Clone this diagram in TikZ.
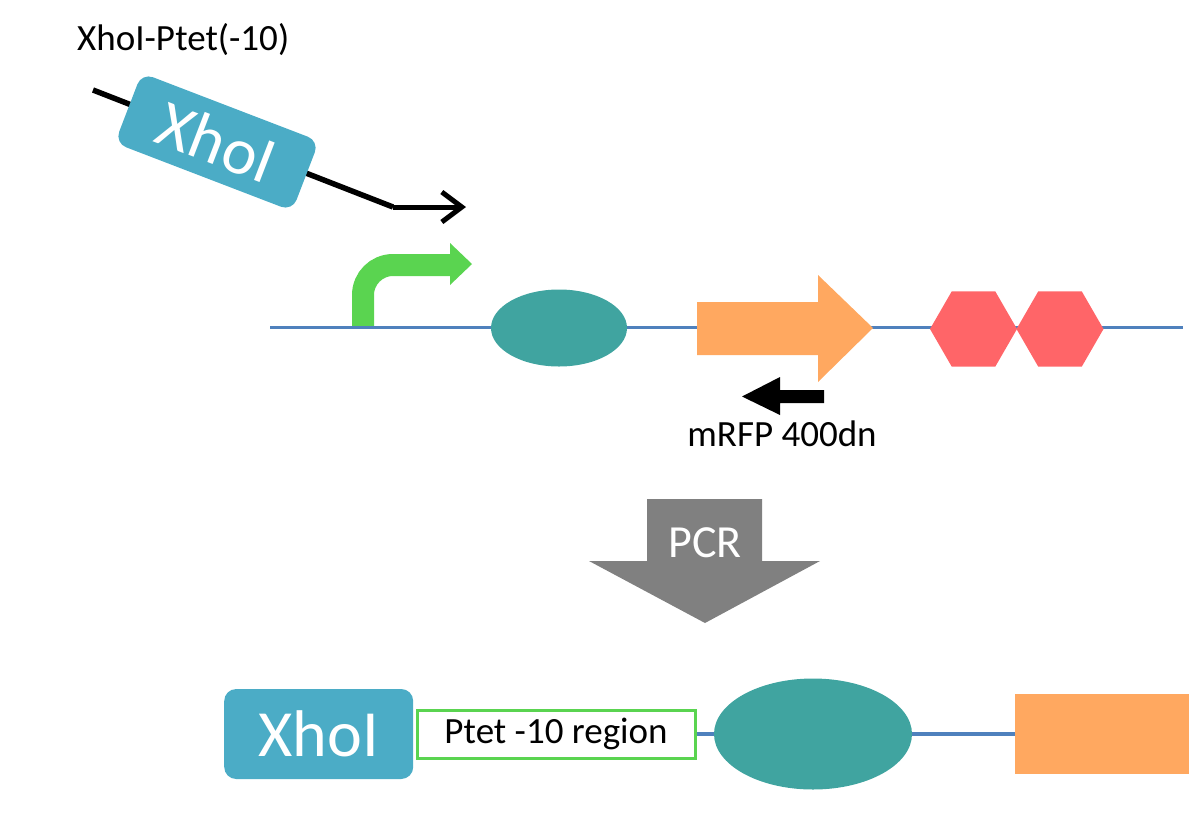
\documentclass[tikz,border=0pt]{standalone}
\usepackage{fontspec}
\setmainfont{Carlito}
\usetikzlibrary{arrows.meta,shapes.geometric,calc}
\definecolor{xblue}{HTML}{4BACC6}
\definecolor{teal2}{HTML}{40A4A0}
\definecolor{orng}{HTML}{FFA860}
\definecolor{hexred}{HTML}{FF6568}
\definecolor{pgreen}{HTML}{5AD450}
\definecolor{dna}{HTML}{4F81BD}
\definecolor{pcrgray}{HTML}{808080}
\tikzset{
  dnaline/.style={draw=dna, line width=3pt},
  xbox/.style={fill=xblue, rounded corners=12pt, text=white, font=\fontsize{66}{70}\selectfont, inner sep=0pt},
  lbl/.style={font=\fontsize{37}{42}\selectfont, inner sep=0pt},
  hexa/.style={regular polygon, regular polygon sides=6, fill=hexred, minimum size=87pt, inner sep=0pt},
  rbs/.style={ellipse, fill=teal2, inner sep=0pt},
}
\begin{document}
\begin{tikzpicture}[x=1pt,y=-1pt]
\useasboundingbox (0,0) rectangle (1189,815);
% top label
\node[lbl, anchor=west] (title) at (77,40) {XhoI-Ptet(-10)};
% primer with XhoI tail
\coordinate (p1) at (93,90);
\coordinate (p2) at (393,207);
\coordinate (p3) at (466,207);
\draw[line width=5.5pt] (p1) -- (p2);
\draw[line width=5pt, -{Straight Barb[length=20pt,width=30pt,line width=5pt]}] (p2) -- (p3);
\node[xbox, rotate=-21, minimum width=190pt, minimum height=75pt] (xtop) at (217,142) {XhoI};
% promoter
\draw[pgreen, line width=22pt, rounded corners=30pt] (363,328) -- (363,265) -- (452,265);
\fill[pgreen] (450,243) -- (472,264) -- (450,285) -- cycle;
% DNA baseline
\coordinate (b0) at (270,327);
\coordinate (b1) at (1183,327);
\draw[dnaline] (b0) -- (b1);
% RBS
\node[rbs, minimum width=136pt, minimum height=77pt] (rbs1) at (559,328) {};
% CDS arrow
\fill[orng] (697,302) -- (818,302) -- (818,275) -- (873,328) -- (818,382) -- (818,355) -- (697,355) -- cycle;
% terminators
\node[hexa] (t1) at (973.5,329) {};
\node[hexa] (t2) at (1060,329) {};
% reverse primer
\fill (824,390) -- (780,390) -- (780,377) -- (742,396.5) -- (780,415) -- (780,403) -- (824,403) -- cycle;
\node[lbl] (rev) at (782,434) {mRFP 400dn};
% PCR arrow
\fill[pcrgray] (647,499) -- (762,499) -- (762,561) -- (820,561) -- (705,623) -- (589,561) -- (647,561) -- cycle;
\node[lbl, text=white, font=\fontsize{46}{50}\selectfont] (pcr) at (705,543) {PCR};
% product
\node[xbox, minimum width=189pt, minimum height=90pt, anchor=west] (xbot) at (224,734) {XhoI};
\node[lbl, draw=pgreen, line width=3pt, fill=white, minimum width=278pt, minimum height=48pt, anchor=west] (ptet) at (415.5,734) {Ptet -10 region};
\node[fill=orng, minimum width=176pt, minimum height=80pt, inner sep=0pt, anchor=west] (cds2) at (1015,734) {};
\draw[dnaline, line width=4pt] (ptet.east) -- (cds2.west);
\node[rbs, minimum width=198pt, minimum height=111pt] (rbs2) at (813,734) {};
\end{tikzpicture}
\end{document}
